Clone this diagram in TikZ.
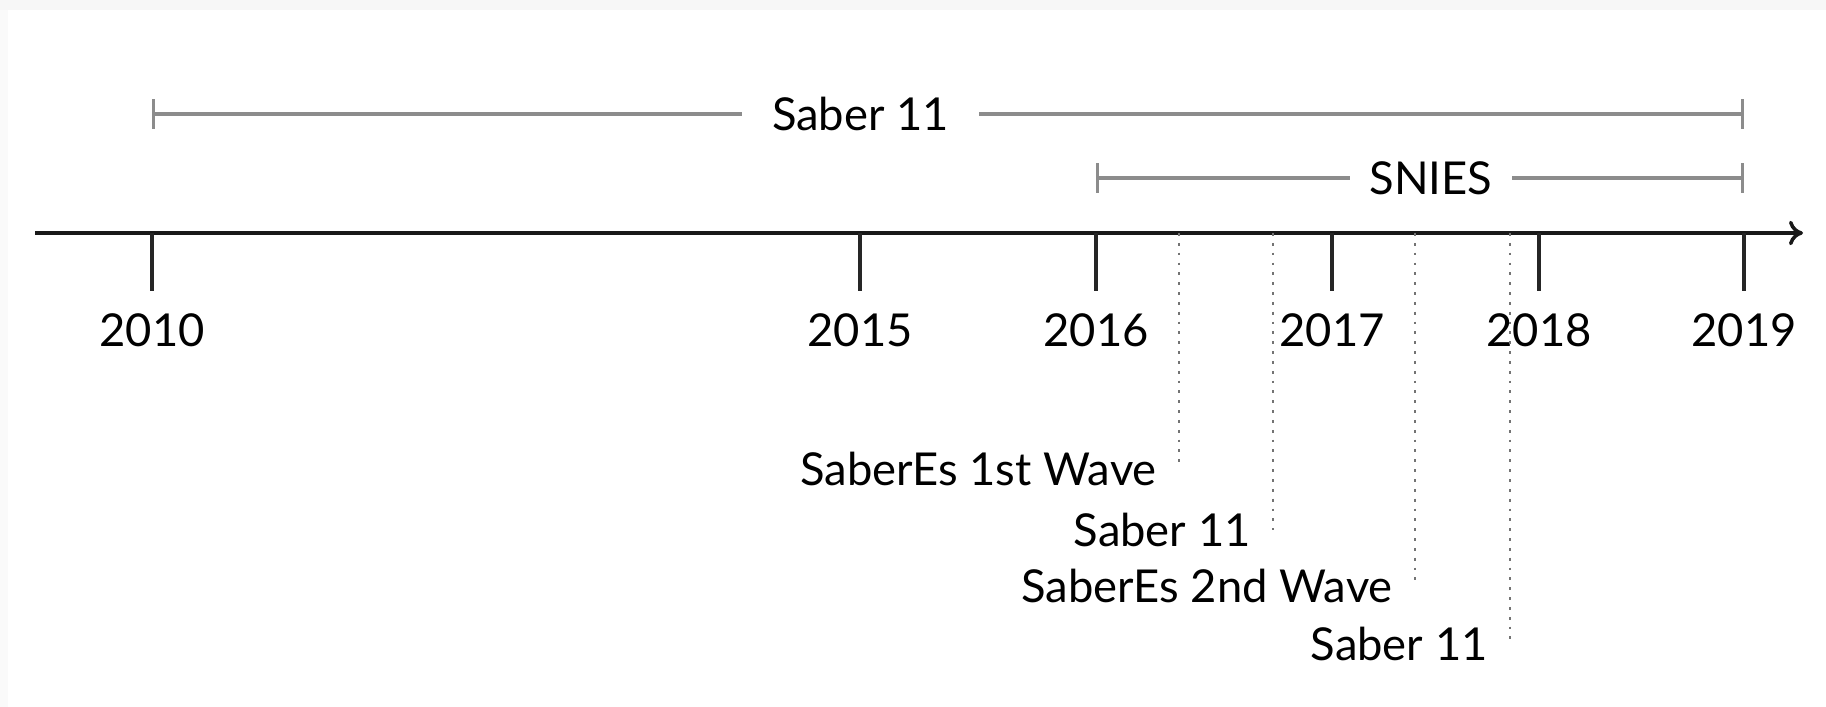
\documentclass[tikz,border=0pt]{standalone}
\usepackage{fontspec}
\setmainfont{Lato}
\usepackage{xcolor}
\usetikzlibrary{arrows.meta,positioning}

\begin{document}
\begin{tikzpicture}[%
      font=\fontsize{12.9}{15}\selectfont,
      yeartick/.style={draw=black!85, line width=0.9pt},
      span/.style={draw=black!45, line width=0.9pt},
      event/.style={draw=black!55, dotted, line width=0.8pt},
      >={To[length=4pt,width=7pt]}]
      \useasboundingbox (0,0) rectangle (18.26,7.07);
      \fill[black!3] (0,6.97) rectangle (18.26,7.07);
      \fill[black!2] (0,0) rectangle (0.08,6.97);
      % time axis
      \coordinate (start) at (0.35,4.74);
      \coordinate (stop) at (18.03,4.74);
      \draw[line width=1pt,draw=black!90,->] (start) -- (stop);
      \foreach \yr/\x in {2010/1.52,2015/8.60,2016/10.96,2017/13.32,2018/15.39,2019/17.44}{
        \draw[yeartick] (\x,4.74) coordinate (t\yr) -- (\x,4.16);
        \node (y\yr) at (\x,3.77) {\yr};
      }
      % data sources
      \coordinate (sa) at (1.52,5.93);
      \coordinate (sb) at (17.44,5.93);
      \draw[span,{Bar[width=8.5pt]}-{Bar[width=8.5pt]}] (sa) -- node[pos=0.445,fill=white,inner xsep=0.3cm] (saber) {Saber 11} (sb);
      \coordinate (na) at (10.96,5.29);
      \coordinate (nb) at (17.44,5.29);
      \draw[span,{Bar[width=8.5pt]}-{Bar[width=8.5pt]}] (na) -- node[pos=0.517,fill=white,inner xsep=0.2cm] (snies) {SNIES} (nb);
      % survey waves
      \coordinate (e1) at (11.79,4.74);
      \coordinate (e2) at (12.73,4.74);
      \coordinate (e3) at (14.15,4.74);
      \coordinate (e4) at (15.10,4.74);
      \node[left=1mm] (wave1) at (11.79,2.38) {SaberEs 1st Wave};
      \node[left=1mm] (saber1) at (12.73,1.77) {Saber 11};
      \node[left=1mm] (wave2) at (14.15,1.21) {SaberEs 2nd Wave};
      \node[left=1mm] (saber2) at (15.10,0.63) {Saber 11};
      \draw[event] (e1) -- (e1 |- wave1);
      \draw[event] (e2) -- (e2 |- saber1);
      \draw[event] (e3) -- (e3 |- wave2);
      \draw[event] (e4) -- (e4 |- saber2);
\end{tikzpicture}
\end{document}
